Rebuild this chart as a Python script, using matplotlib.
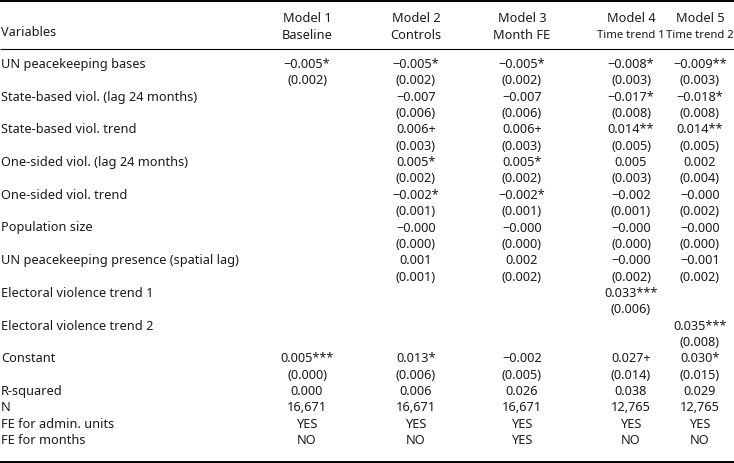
import matplotlib
matplotlib.use("Agg")
import matplotlib.pyplot as plt

# ---------------------------------------------------------------------------
# Table content
# ---------------------------------------------------------------------------
models = ["Model 1", "Model 2", "Model 3", "Model 4", "Model 5"]
subtitles = ["Baseline", "Controls", "Month FE", "Time trend 1", "Time trend 2"]

variables = [
    "UN peacekeeping bases",
    "State-based viol. (lag 24 months)",
    "State-based viol. trend",
    "One-sided viol. (lag 24 months)",
    "One-sided viol. trend",
    "Population size",
    "UN peacekeeping presence (spatial lag)",
    "Electoral violence trend 1",
    "Electoral violence trend 2",
    "Constant",
]

# coefficient / standard error per model ("" = not in model)
coef_m1 = ["\u22120.005*", "", "", "", "", "", "", "", "", "0.005***"]
se_m1 = ["(0.002)", "", "", "", "", "", "", "", "", "(0.000)"]
coef_m2 = ["\u22120.005*", "\u22120.007", "0.006+", "0.005*", "\u22120.002*",
           "\u22120.000", "0.001", "", "", "0.013*"]
se_m2 = ["(0.002)", "(0.006)", "(0.003)", "(0.002)", "(0.001)",
         "(0.000)", "(0.001)", "", "", "(0.006)"]
coef_m3 = ["\u22120.005*", "\u22120.007", "0.006+", "0.005*", "\u22120.002*",
           "\u22120.000", "0.002", "", "", "\u22120.002"]
se_m3 = ["(0.002)", "(0.006)", "(0.003)", "(0.002)", "(0.001)",
         "(0.000)", "(0.002)", "", "", "(0.005)"]
coef_m4 = ["\u22120.008*", "\u22120.017*", "0.014**", "0.005", "\u22120.002",
           "\u22120.000", "\u22120.000", "0.033***", "", "0.027+"]
se_m4 = ["(0.003)", "(0.008)", "(0.005)", "(0.003)", "(0.001)",
         "(0.000)", "(0.002)", "(0.006)", "", "(0.014)"]
coef_m5 = ["\u22120.009**", "\u22120.018*", "0.014**", "0.002", "\u22120.000",
           "\u22120.000", "\u22120.001", "", "0.035***", "0.030*"]
se_m5 = ["(0.003)", "(0.008)", "(0.005)", "(0.004)", "(0.002)",
         "(0.000)", "(0.002)", "", "(0.008)", "(0.015)"]

coefs = [coef_m1, coef_m2, coef_m3, coef_m4, coef_m5]
ses = [se_m1, se_m2, se_m3, se_m4, se_m5]

stat_labels = ["R-squared", "N", "FE for admin. units", "FE for months"]
r_squared = ["0.000", "0.006", "0.026", "0.038", "0.029"]
n_obs = ["16,671", "16,671", "16,671", "12,765", "12,765"]
fe_admin = ["YES", "YES", "YES", "YES", "YES"]
fe_months = ["NO", "NO", "YES", "NO", "NO"]
stats = [r_squared, n_obs, fe_admin, fe_months]

# ---------------------------------------------------------------------------
# Layout (pixel units, origin top-left)
# ---------------------------------------------------------------------------
W, H = 734, 463
COL_X = [307, 416, 522, 631, 700]
LABEL_X = 1
ROW0 = 64.5
PITCH = 16.35
FS = 9.2
MAX_HEAD_W = 68      # room for the two "Time trend" subtitles, px
INK = "#1a1a1a"

plt.rcParams["font.family"] = ["Noto Sans", "DejaVu Sans"]

fig = plt.figure(figsize=(W / 100, H / 100), dpi=100)
ax = fig.add_axes([0, 0, 1, 1])
ax.set_xlim(0, W)
ax.set_ylim(H, 0)
ax.axis("off")

# rules
ax.plot([0, W], [1.2, 1.2], color="black", lw=1.4, solid_capstyle="butt")
ax.plot([0, W], [48.5, 48.5], color="black", lw=0.8, solid_capstyle="butt")
ax.plot([0, W], [461.5, 461.5], color="black", lw=1.4, solid_capstyle="butt")

# header
ax.text(LABEL_X, 33, "Variables", ha="left", va="center", fontsize=FS, color=INK)
renderer = fig.canvas.get_renderer()
for x, m, s in zip(COL_X, models, subtitles):
    ax.text(x, 19, m, ha="center", va="center", fontsize=FS, color=INK)
    t = ax.text(x, 35.5, s, ha="center", va="center", fontsize=FS, color=INK)
    w = t.get_window_extent(renderer).width
    if w > MAX_HEAD_W:  # the source font sets these a bit tighter
        t.set_fontsize(FS * MAX_HEAD_W / w)

# coefficient rows
line = 0
for i, var in enumerate(variables):
    y = ROW0 + line * PITCH
    ax.text(LABEL_X, y, var, ha="left", va="center", fontsize=FS, color=INK)
    for x, c, s in zip(COL_X, coefs, ses):
        ax.text(x, y, c[i], ha="center", va="center", fontsize=FS, color=INK)
        ax.text(x, y + PITCH, s[i], ha="center", va="center", fontsize=FS, color=INK)
    line += 2

# summary rows
for lab, vals in zip(stat_labels, stats):
    y = ROW0 + line * PITCH
    ax.text(LABEL_X, y, lab, ha="left", va="center", fontsize=FS, color=INK)
    for x, v in zip(COL_X, vals):
        ax.text(x, y, v, ha="center", va="center", fontsize=FS, color=INK)
    line += 1

fig.savefig("out.png", dpi=100)
